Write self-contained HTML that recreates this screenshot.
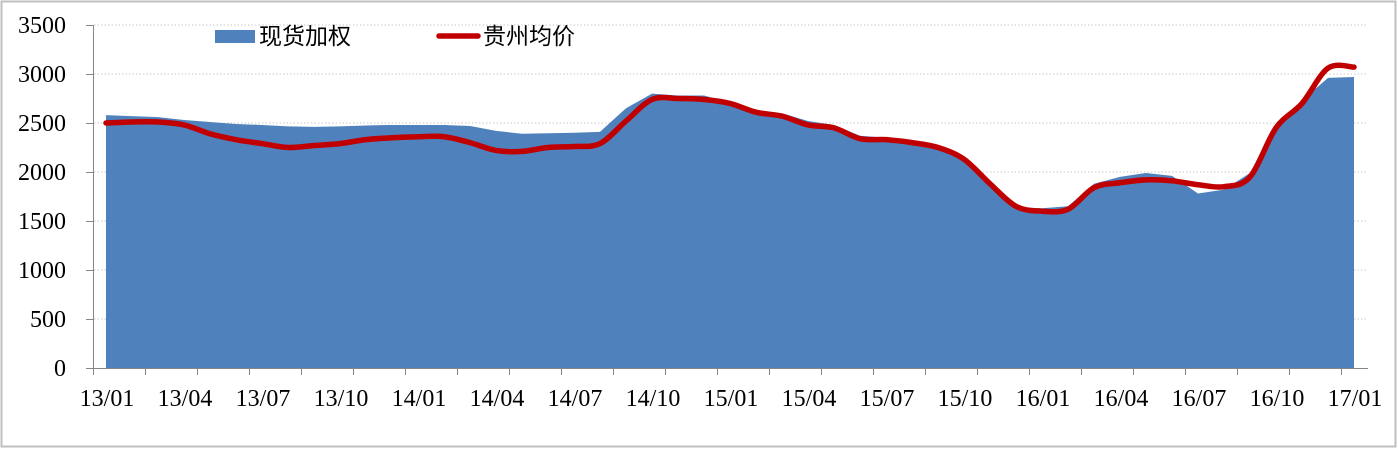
<!DOCTYPE html>
<html><head><meta charset="utf-8"><style>
html,body{margin:0;padding:0;background:#fff;}
svg{display:block;}
text{font-family:"Liberation Serif","Noto Serif CJK SC",serif;}
</style></head><body>
<svg id="c" width="1398" height="449" xmlns="http://www.w3.org/2000/svg">
<rect x="1.5" y="1.5" width="1394" height="445" fill="#fff" stroke="#bfbfbf" stroke-width="2"/>
<g id="grid"></g>
<path id="area" fill="#4F81BD"/>
<path id="line" fill="none" stroke="#C00000" stroke-width="5.5" stroke-linecap="round" stroke-linejoin="round"/>
<g id="axes" stroke="#868686" stroke-width="1"></g>
<g id="labels" font-size="24" fill="#000"></g>
<rect x="215" y="30" width="40" height="13" fill="#4F81BD"/>
<text x="259" y="44" font-size="23" style="font-family:'Liberation Sans','Noto Sans CJK SC',sans-serif">现货加权</text>
<line x1="439" y1="36" x2="478" y2="36" stroke="#C00000" stroke-width="5.5" stroke-linecap="round"/>
<text x="483" y="44" font-size="23" style="font-family:'Liberation Sans','Noto Sans CJK SC',sans-serif">贵州均价</text>
</svg>
<script>
var A=[2580,2570,2560,2530,2510,2490,2480,2465,2460,2465,2475,2480,2480,2480,2470,2420,2390,2395,2400,2410,2650,2800,2780,2780,2710,2630,2600,2520,2480,2370,2350,2320,2270,2160,1900,1640,1630,1650,1880,1950,1990,1960,1780,1820,1990,2500,2730,2960,2970];
var L=[2500,2510,2510,2480,2390,2330,2290,2250,2270,2290,2330,2350,2360,2360,2300,2220,2210,2250,2260,2290,2520,2740,2750,2740,2700,2610,2570,2480,2450,2340,2330,2300,2250,2130,1880,1650,1600,1620,1840,1890,1920,1910,1870,1850,1950,2450,2700,3060,3070];
function X(i){return 106+26*i;}
function Y(v){return 368-v*0.098;}
var ns="http://www.w3.org/2000/svg";
function el(t,a,p){var e=document.createElementNS(ns,t);for(var k in a)e.setAttribute(k,a[k]);p.appendChild(e);return e;}
var g=document.getElementById('grid');
for(var v=500;v<=3500;v+=500){el('line',{x1:94,x2:1368,y1:Y(v),y2:Y(v),stroke:'#c8c8c8','stroke-width':1,'stroke-dasharray':'1.5,2'},g);}
var d='M'+X(0)+','+Y(0);
for(var i=0;i<A.length;i++)d+=' L'+X(i)+','+Y(A[i]);
d+=' L'+X(A.length-1)+','+Y(0)+' Z';
document.getElementById('area').setAttribute('d',d);
var p=L.map(function(v,i){return [X(i),Y(v)];});
var s='M'+p[0][0]+','+p[0][1];
for(var i=0;i<p.length-1;i++){var p0=p[Math.max(0,i-1)],p1=p[i],p2=p[i+1],p3=p[Math.min(p.length-1,i+2)];var t=1/6;
s+=' C'+(p1[0]+(p2[0]-p0[0])*t)+','+(p1[1]+(p2[1]-p0[1])*t)+' '+(p2[0]-(p3[0]-p1[0])*t)+','+(p2[1]-(p3[1]-p1[1])*t)+' '+p2[0]+','+p2[1];}
document.getElementById('line').setAttribute('d',s);
var ax=document.getElementById('axes');
el('line',{x1:93.5,x2:93.5,y1:25,y2:368},ax);
el('line',{x1:86,x2:1368,y1:368.5,y2:368.5},ax);
for(var v=0;v<=3500;v+=500)el('line',{x1:86,x2:93,y1:Y(v)+0.5,y2:Y(v)+0.5},ax);
for(var k=0;k<=24;k++){var x=93.5+52*k;el('line',{x1:x,x2:x,y1:368,y2:375},ax);}
var lb=document.getElementById('labels');
for(var v=0;v<=3500;v+=500){var t=el('text',{x:66,y:Y(v)+8,'text-anchor':'end'},lb);t.textContent=v;}
var names=['13/01','13/04','13/07','13/10','14/01','14/04','14/07','14/10','15/01','15/04','15/07','15/10','16/01','16/04','16/07','16/10','17/01'];
for(var k=0;k<names.length;k++){var t=el('text',{x:X(3*k)+1,y:406,'text-anchor':'middle'},lb);t.textContent=names[k];}
</script>
</body></html>
